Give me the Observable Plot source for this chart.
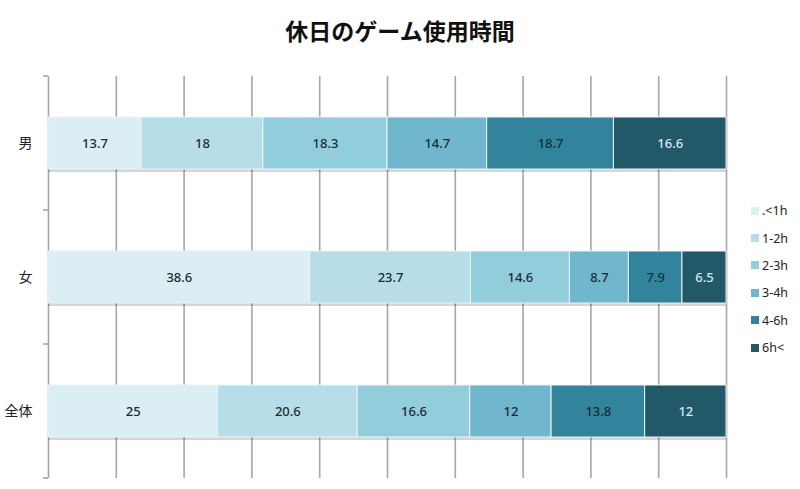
<!DOCTYPE html>
<html><head><meta charset="utf-8">
<script src="https://cdn.jsdelivr.net/npm/d3@7"></script>
<script src="https://cdn.jsdelivr.net/npm/@observablehq/plot@0.6"></script>
<style>
html,body{margin:0;padding:0;background:#fff;}
#wrap{position:relative;width:800px;height:489px;font-family:"Noto Sans CJK JP","Noto Sans",sans-serif;}
#title{height:60px;line-height:60px;text-align:center;font-size:23px;font-weight:bold;color:#111;box-sizing:border-box;}
#legend{position:absolute;left:751px;top:197px;font-size:12.5px;color:#222;font-family:"Noto Sans",sans-serif;}
#legend div{height:27.4px;display:flex;align-items:center;}
#legend span.sw{display:inline-block;width:8px;height:8px;margin-right:3px;}
</style></head>
<body><div id="wrap"><div id="title">休日のゲーム使用時間</div><div id="chart"></div><div id="legend"></div></div>
<script>
const groups = ["男", "女", "全体"];
const bins = [".<1h", "1-2h", "2-3h", "3-4h", "4-6h", "6h<"];
const male = [13.7, 18, 18.3, 14.7, 18.7, 16.6];
const female = [38.6, 23.7, 14.6, 8.7, 7.9, 6.5];
const total = [25, 20.6, 16.6, 12, 13.8, 12];
const colors = ["#daeef3", "#b7dee8", "#92cddc", "#70b6cc", "#31849b", "#215968"];
const gridTicks = [0,10,20,30,40,50,60,70,80,90,100];

const series = [male, female, total];
const data = [];
groups.forEach((g, gi) => bins.forEach((b, bi) => data.push({group: g, bin: b, value: series[gi][bi]})));

const inset = 41;
const plot = Plot.plot({
  width: 800, height: 429,
  marginLeft: 48, marginRight: 74, marginTop: 16, marginBottom: 11,
  style: {fontFamily: '"Noto Sans CJK JP","Noto Sans",sans-serif', fontSize: "12px", color: "#222"},
  x: {domain: [0, 100], axis: null},
  y: {domain: groups, paddingInner: 0, paddingOuter: 0, axis: null},
  color: {domain: bins, range: colors},
  marks: [
    Plot.ruleX(gridTicks, {x: d => d, stroke: "#a6a6a6", strokeWidth: 1.6}),
    Plot.barX(groups, {y: d => d, x1: 0, x2: 100, insetTop: inset, insetBottom: inset, dy: 3, fill: "#000", fillOpacity: 0.16}),
    Plot.barX(data, Plot.stackX({y: "group", x: "value", fill: "bin", order: bins, insetTop: inset, insetBottom: inset, stroke: "#eef4f6", strokeWidth: 1})),
    Plot.text(data, Plot.stackX({y: "group", x: "value", z: "bin", order: bins, text: d => String(d.value), fill: d => d.bin === "6h<" ? "#dce6ef" : "#1f2a33", fontSize: 13, fontFamily: '"Noto Sans",sans-serif', fontWeight: 500})),
    Plot.axisY({tickSize: 0, tickPadding: 16, fontSize: 14, label: null})
  ]
});
document.getElementById("chart").appendChild(plot);

const ys = plot.scale("y");
const xs = plot.scale("x");
const svg = d3.select(plot);
const bw = ys.bandwidth;
const bounds = groups.map(g => ys.apply(g)).concat([ys.apply(groups[2]) + bw]);
svg.append("g").selectAll("line").data(bounds).join("line")
  .attr("x1", xs.apply(0) - 5).attr("x2", xs.apply(0))
  .attr("y1", d => d).attr("y2", d => d)
  .attr("stroke", "#a6a6a6").attr("stroke-width", 1.6);

const lg = document.getElementById("legend");
bins.forEach((b, i) => {
  const row = document.createElement("div");
  row.innerHTML = `<span class="sw" style="background:${colors[i]}"></span>${b}`;
  lg.appendChild(row);
});
</script></body></html>
